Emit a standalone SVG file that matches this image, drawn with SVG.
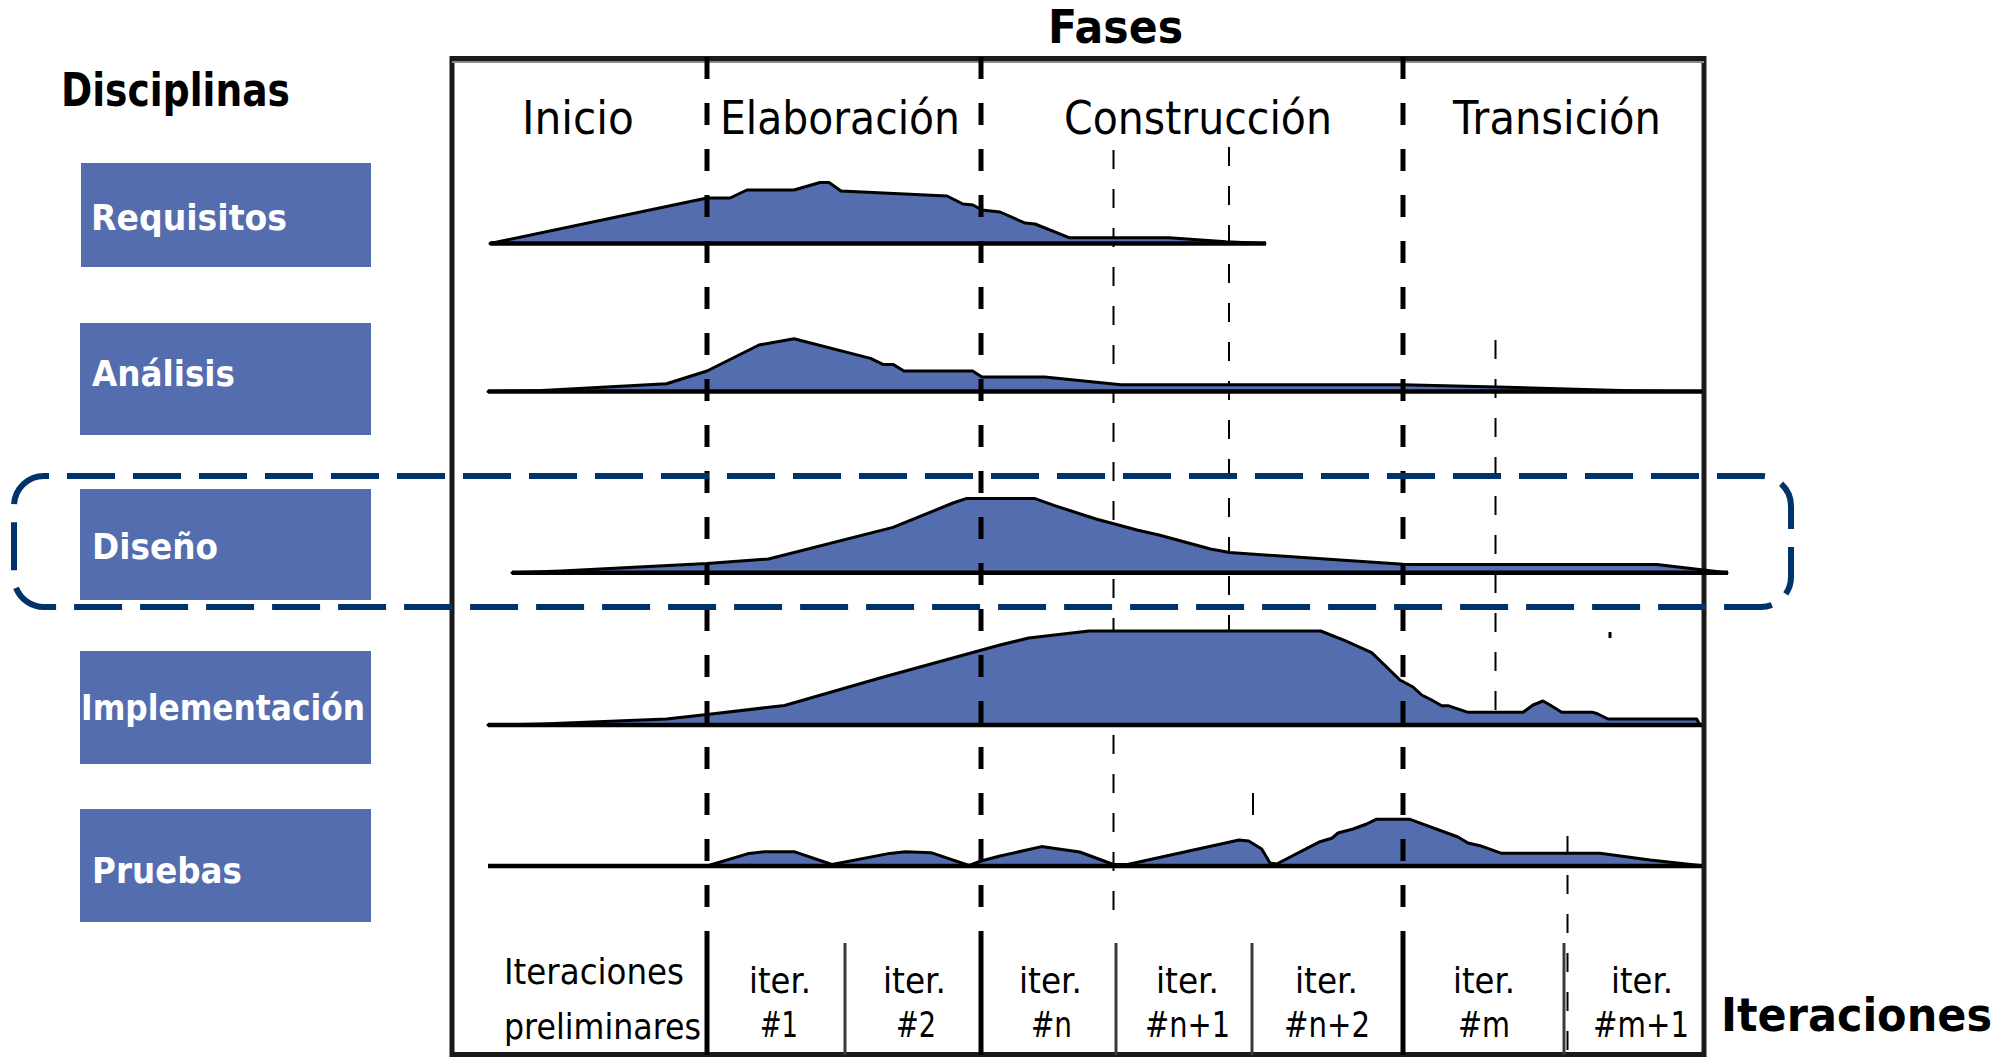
<svg xmlns="http://www.w3.org/2000/svg" width="1999" height="1057" viewBox="0 0 1999 1057">
<style>
.bg{fill:#ffffff}
.box{fill:#536DAF}
.area{fill:#536DAF;stroke:#000;stroke-width:3;stroke-linejoin:round}
.base{stroke:#000;stroke-width:4.5;fill:none}
.thick{stroke:#000;stroke-width:5;stroke-dasharray:22 24;fill:none}
.thin{stroke:#000;stroke-width:2;stroke-dasharray:19 20;fill:none}
.solid{stroke:#000;stroke-width:5;fill:none}
.div{stroke:#3a3a3a;stroke-width:3;fill:none}
.sel{stroke:#00336A;stroke-width:6;stroke-dasharray:48 18;stroke-dashoffset:43;fill:none}
.ph{font-family:"DejaVu Sans","Liberation Sans",sans-serif;font-size:46px;fill:#000}
.it{font-family:"DejaVu Sans","Liberation Sans",sans-serif;font-size:36px;fill:#000}
.bl{font-family:"DejaVu Sans","Liberation Sans",sans-serif;font-weight:bold;font-size:36px;fill:#fff}
.tt{font-family:"DejaVu Sans","Liberation Sans",sans-serif;font-weight:bold;font-size:46px;fill:#000}
</style>
<rect class="bg" x="0" y="0" width="1999" height="1057"/>

<!-- titles -->
<text class="tt" x="61" y="106" textLength="229" lengthAdjust="spacingAndGlyphs">Disciplinas</text>
<text class="tt" x="1048" y="43" textLength="135" lengthAdjust="spacingAndGlyphs">Fases</text>
<text class="tt" x="1721" y="1031" textLength="271" lengthAdjust="spacingAndGlyphs">Iteraciones</text>

<!-- frame -->
<g id="frame">
<rect x="452" y="58.5" width="1252" height="996" fill="none" stroke="#1a1a1a" stroke-width="5"/>
<line x1="452" y1="62" x2="1704" y2="62" stroke="#8a8a8a" stroke-width="2"/>
</g>

<!-- discipline nodes -->
<g id="requisitos"><rect class="box" x="81" y="163" width="290" height="104"/><text class="bl" x="91" y="230" textLength="196" lengthAdjust="spacingAndGlyphs">Requisitos</text></g>
<g id="analisis"><rect class="box" x="80" y="323" width="291" height="112"/><text class="bl" x="92" y="386" textLength="143" lengthAdjust="spacingAndGlyphs">Análisis</text></g>
<g id="diseno"><rect class="box" x="80" y="489" width="291" height="111"/><text class="bl" x="92" y="559" textLength="126" lengthAdjust="spacingAndGlyphs">Diseño</text></g>
<g id="implementacion"><rect class="box" x="80" y="651" width="291" height="113"/><text class="bl" x="81" y="720" textLength="284" lengthAdjust="spacingAndGlyphs">Implementación</text></g>
<g id="pruebas"><rect class="box" x="80" y="809" width="291" height="113"/><text class="bl" x="92" y="883" textLength="150" lengthAdjust="spacingAndGlyphs">Pruebas</text></g>

<!-- phase labels -->
<g id="fases">
<text class="ph" x="522" y="134" textLength="112" lengthAdjust="spacingAndGlyphs">Inicio</text>
<text class="ph" x="720" y="134" textLength="240" lengthAdjust="spacingAndGlyphs">Elaboración</text>
<text class="ph" x="1064" y="134" textLength="268" lengthAdjust="spacingAndGlyphs">Construcción</text>
<text class="ph" x="1453" y="134" textLength="208" lengthAdjust="spacingAndGlyphs">Transición</text>
</g>

<g id="connectors">
<!-- thin iteration dashed lines -->
<line class="thin" x1="1113.5" y1="150" x2="1113.5" y2="910"/>
<line class="thin" x1="1229" y1="147" x2="1229" y2="636"/>
<line class="thin" x1="1495.5" y1="340" x2="1495.5" y2="714"/>
<line class="thin" x1="1567.5" y1="836" x2="1567.5" y2="1050"/>
<line x1="1253" y1="793" x2="1253" y2="815" stroke="#000" stroke-width="2"/>
<line x1="1610" y1="632" x2="1610" y2="638" stroke="#000" stroke-width="3"/>
</g>

<!-- workload curves -->
<g id="curva-requisitos">
<path class="area" d="M490,243.5 L707,198 L730,198 L747,190 L794,190 L820,182.5 L829,182.5 L841,191 L947,196 L963,204 L973,205 L982,210 L1000,212 L1025,223 L1035,224 L1069,237.7 L1169,237.7 L1226,241.7 L1265,243.5 Z"/>
<line class="base" x1="490" y1="243.5" x2="1266" y2="243.5"/>
</g>
<g id="curva-analisis">
<path class="area" d="M488,391.5 L542,390.5 L666.5,383.7 L707,371 L759,345 L794,338.7 L870.5,358.4 L883,364.4 L893,364.4 L904,371 L972.6,371 L982,377 L1044.6,377 L1121,384.7 L1403,384.7 L1497,387 L1638,391 L1701.5,391.5 Z"/>
<line class="base" x1="488" y1="391.5" x2="1702" y2="391.5"/>
</g>
<g id="curva-diseno">
<path class="area" d="M512,572.7 L561,571 L707,563.6 L768.5,559 L893,527.4 L953,503 L966,498.6 L1035,498.6 L1054,505.4 L1096,519 L1137,530 L1159,535 L1210.5,549 L1229.6,552.5 L1403,564.3 L1414.5,564.6 L1657,564.6 L1701.5,569.7 L1727,572.7 Z"/>
<line class="base" x1="512" y1="572.7" x2="1728" y2="572.7"/>
</g>
<g id="curva-implementacion">
<path class="area" d="M488,725 L542,724 L666.5,719 L707,714.5 L784.5,705.5 L880,678 L1000,645 L1028.7,638 L1089,631 L1320.7,631 L1345,640.7 L1371.7,652.7 L1400,680 L1413,687 L1421.7,695 L1431.7,700 L1441.7,705.7 L1448,705.7 L1468,712.3 L1523,712.3 L1533,705 L1543,701 L1550,705 L1561.7,712.3 L1593,712.3 L1598,714 L1608,719 L1696.7,719 L1700,725 Z"/>
<line class="base" x1="488" y1="725" x2="1702" y2="725"/>
</g>
<g id="curva-pruebas">
<path class="area" d="M707,866 L749,853.4 L765,851.7 L794,851.7 L832,864.5 L889.7,853.4 L905.6,851.7 L931,852.7 L969,865.5 L981,861 L1000,856 L1041.5,846.6 L1079.7,852 L1113.5,864.5 L1127.5,864.5 L1239,840 L1248.7,841 L1261.7,849 L1270,863 L1276.7,864 L1320,841.7 L1331.7,838.3 L1338,833 L1353,829 L1366.7,824 L1376,819.3 L1410,819.3 L1458,837 L1468,843 L1480,845.7 L1501.7,853.3 L1600,853.3 L1650,860 L1700,865.5 Z"/>
<line class="base" x1="488" y1="866" x2="1702" y2="866"/>
</g>

<g id="phase-lines">
<line class="thick" x1="707" y1="57" x2="707" y2="931"/>
<line class="thick" x1="981" y1="57" x2="981" y2="931"/>
<line class="thick" x1="1403" y1="57" x2="1403" y2="931"/>
<line class="solid" x1="707" y1="931" x2="707" y2="1055"/>
<line class="solid" x1="981" y1="931" x2="981" y2="1055"/>
<line class="solid" x1="1403" y1="931" x2="1403" y2="1055"/>
<line class="div" x1="845" y1="943" x2="845" y2="1055"/>
<line class="div" x1="1116" y1="943" x2="1116" y2="1055"/>
<line class="div" x1="1252" y1="943" x2="1252" y2="1055"/>
<line class="div" x1="1564" y1="943" x2="1564" y2="1055"/>
</g>

<!-- iteration labels -->
<g id="iteraciones">
<text class="it" x="504" y="984" textLength="180" lengthAdjust="spacingAndGlyphs">Iteraciones</text>
<text class="it" x="504" y="1039" textLength="197" lengthAdjust="spacingAndGlyphs">preliminares</text>
<text class="it" x="749" y="993" textLength="62" lengthAdjust="spacingAndGlyphs">iter.</text>
<text class="it" x="760" y="1037" textLength="38" lengthAdjust="spacingAndGlyphs">#1</text>
<text class="it" x="883" y="993" textLength="63" lengthAdjust="spacingAndGlyphs">iter.</text>
<text class="it" x="896" y="1037" textLength="40" lengthAdjust="spacingAndGlyphs">#2</text>
<text class="it" x="1019" y="993" textLength="63" lengthAdjust="spacingAndGlyphs">iter.</text>
<text class="it" x="1031" y="1037" textLength="41" lengthAdjust="spacingAndGlyphs">#n</text>
<text class="it" x="1156" y="993" textLength="63" lengthAdjust="spacingAndGlyphs">iter.</text>
<text class="it" x="1145" y="1037" textLength="85" lengthAdjust="spacingAndGlyphs">#n+1</text>
<text class="it" x="1295" y="993" textLength="63" lengthAdjust="spacingAndGlyphs">iter.</text>
<text class="it" x="1284" y="1037" textLength="86" lengthAdjust="spacingAndGlyphs">#n+2</text>
<text class="it" x="1453" y="993" textLength="62" lengthAdjust="spacingAndGlyphs">iter.</text>
<text class="it" x="1458" y="1037" textLength="52" lengthAdjust="spacingAndGlyphs">#m</text>
<text class="it" x="1611" y="993" textLength="62" lengthAdjust="spacingAndGlyphs">iter.</text>
<text class="it" x="1593" y="1037" textLength="96" lengthAdjust="spacingAndGlyphs">#m+1</text>
</g>

<!-- highlighted discipline (dashed rounded rectangle) -->
<g id="seleccion">
<path class="sel" d="M44,476 H1761 A30,30 0 0 1 1791,506 V577 A30,30 0 0 1 1761,607 H44 A30,30 0 0 1 14,577 V506 A30,30 0 0 1 44,476 Z"/>
</g>
</svg>
